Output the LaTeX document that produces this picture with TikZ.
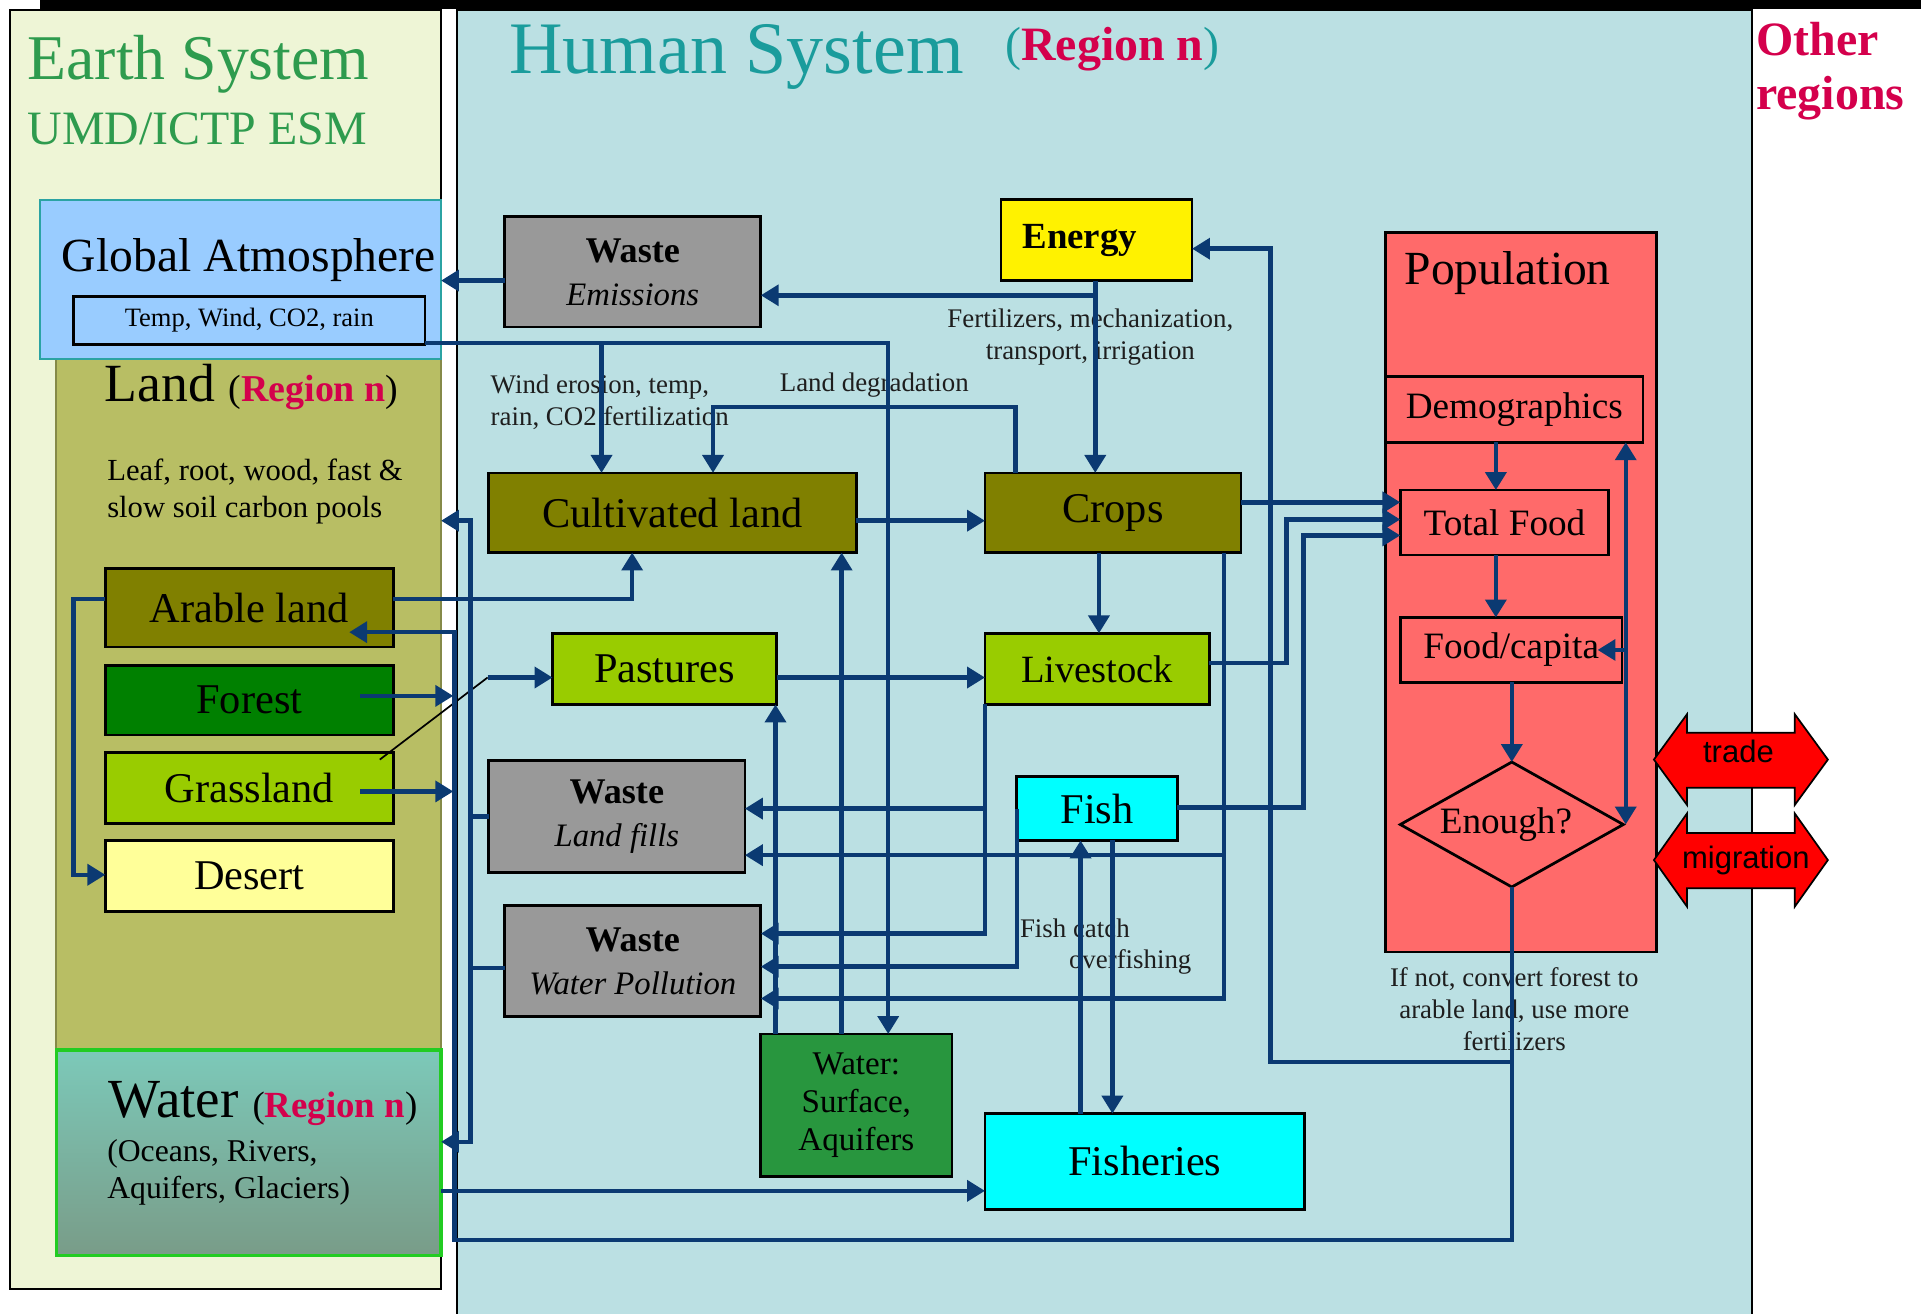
\documentclass[tikz,border=0pt]{standalone}
\usepackage{fontspec}
\setmainfont{Liberation Serif}
\newfontfamily\arialf{Liberation Sans}
\usetikzlibrary{arrows.meta,shapes.geometric,calc}
\definecolor{navy}{HTML}{0B3A72}
\definecolor{esgreen}{HTML}{2E9B4E}
\definecolor{hsteal}{HTML}{1A9C9C}
\definecolor{crim}{HTML}{D4004C}
\definecolor{earthbg}{HTML}{EEF5D6}
\definecolor{humanbg}{HTML}{BBE0E3}
\definecolor{landbg}{HTML}{B8BE64}
\definecolor{landline}{HTML}{858A48}
\definecolor{atmbg}{HTML}{99CCFF}
\definecolor{atmline}{HTML}{2BA3A3}
\definecolor{olivebox}{HTML}{808000}
\definecolor{forestc}{HTML}{008000}
\definecolor{grassc}{HTML}{99CC00}
\definecolor{desertc}{HTML}{FFFF99}
\definecolor{wastec}{HTML}{999999}
\definecolor{wsurfc}{HTML}{28963E}
\definecolor{popc}{HTML}{FF6A6A}
\definecolor{watertop}{HTML}{7CC9B9}
\definecolor{waterbot}{HTML}{799C88}
\definecolor{waterline}{HTML}{22CC22}
\definecolor{labelc}{HTML}{1E1E1E}
\definecolor{fishc}{HTML}{00FFFF}
\newcommand\fsz[2]{\fontsize{#1pt}{#2pt}\selectfont}
\newcommand\wastetxt[1]{{\fsz{10.5}{12.4}\bfseries Waste}\\{\fsz{9.5}{12.4}\itshape #1}}
\tikzset{
  wh/.style 2 args={minimum width=#1*0.0125cm,minimum height=#2*0.0125cm},
  panel/.style={inner sep=0pt,outer sep=0pt,line width=0.6pt},
  box/.style={draw=black,line width=0.8pt,inner sep=0pt,outer sep=0pt},
  cn/.style={draw=navy,line width=1.3pt,-{Triangle[length=5.2pt,width=6pt]}},
  cnb/.style={draw=navy,line width=1.3pt,{Triangle[length=5.2pt,width=6pt]}-{Triangle[length=5.2pt,width=6pt]}},
  cl/.style={draw=navy,line width=1.3pt},
  lbl/.style={inner sep=0pt,text=labelc,font=\fsz{7.8}{9.3}},
  ttl/.style={anchor=base west,inner sep=0pt},
}
\begin{document}
\begin{tikzpicture}[x=0.0125cm,y=-0.0125cm]
\useasboundingbox (0,0) rectangle (1568,1072);
% top band
\fill[black] (33,0) rectangle (1568,7);
% panels
\node[panel,draw=black,fill=earthbg,wh={352}{1044}] (earth) at (184,530) {};
\node[panel,draw=black,fill=humanbg,wh={1057}{1080}] (human) at (901.5,548) {};
\node[panel,draw=landline,fill=landbg,wh={314}{564}] (land) at (203,575) {};
\node[panel,draw=waterline,line width=0.9pt,top color=watertop,bottom color=waterbot,wh={314}{168}] (water) at (203,941) {};
\node[panel,draw=atmline,fill=atmbg,wh={327}{130}] (atm) at (196.5,228) {};
\node[panel,draw=black,line width=0.8pt,wh={287}{39},font=\fsz{7.7}{9}] (temp) at (203.5,261.5) {Temp, Wind, CO2, rain};
% titles
\node[ttl,text=esgreen,font=\fsz{18.5}{20}] (estitle) at (22,65) {Earth System};
\node[ttl,text=esgreen,font=\fsz{13.9}{16}] (esmodel) at (22,118) {UMD/ICTP ESM};
\node[ttl,text=hsteal,font=\fsz{21.5}{24}] (hstitle) at (415,60) {Human System};
\node[ttl,text=hsteal,font=\fsz{13.9}{16}] (hsregion) at (820,49) {(\textcolor{crim}{\bfseries Region n})};
\node[ttl,text=crim,font=\fsz{13.9}{16}\bfseries] (other1) at (1433,45) {Other};
\node[ttl,text=crim,font=\fsz{13.9}{16}\bfseries] (other2) at (1433,89) {regions};
\node[ttl,font=\fsz{13.8}{16}] (atmtitle) at (50,222) {Global Atmosphere};
\node[ttl] (landtitle) at (85,328) {\fsz{15.6}{18}Land \fsz{11}{13}(\textcolor{crim}{\bfseries Region n})};
\node[inner sep=0pt,anchor=west,align=left,font=\fsz{8.9}{10.7}] (pools) at (87,401) {Leaf, root, wood, fast \&\\slow soil carbon pools};
\node[ttl] (watertitle) at (88,912) {\fsz{16}{18}Water \fsz{10.7}{12}(\textcolor{crim}{\bfseries Region n})};
\node[inner sep=0pt,anchor=west,align=left,font=\fsz{9.2}{10.7}] (waterkinds) at (87,957) {(Oceans, Rivers,\\Aquifers, Glaciers)};
% land boxes
\node[box,fill=olivebox,wh={235}{64},font=\fsz{12.3}{14}] (arable) at (203.5,496) {Arable land};
\node[box,fill=forestc,wh={235}{57},font=\fsz{12.3}{14}] (forest) at (203.5,571.5) {Forest};
\node[box,fill=grassc,wh={235}{58},font=\fsz{12.3}{14}] (grass) at (203.5,643) {Grassland};
\node[box,fill=desertc,wh={235}{58},font=\fsz{12.3}{14}] (desert) at (203.5,715) {Desert};
% human boxes
\node[box,fill=wastec,wh={209}{90},align=center,font=\fsz{10}{12.4}] (wemis) at (516.5,222) {\wastetxt{Emissions}};
\node[box,fill=yellow,wh={156}{66},font=\fsz{10.7}{12}\bfseries] (energy) at (895,196) {Energy\kern0.34cm};
\node[box,fill=olivebox,wh={300}{65},font=\fsz{12.3}{14}] (cult) at (549,418.5) {Cultivated land};
\node[box,fill=olivebox,wh={209}{65},font=\fsz{12.3}{14}] (crops) at (908.5,418.5) {Crops};
\node[box,fill=grassc,wh={183}{58},font=\fsz{12.3}{14}] (past) at (542.5,546) {Pastures};
\node[box,fill=grassc,wh={183}{58},font=\fsz{11.2}{13}] (live) at (895.5,546) {Livestock};
\node[box,fill=wastec,wh={209}{91},align=center,font=\fsz{10}{12.4}] (wland) at (503.5,666.5) {\wastetxt{Land fills}};
\node[box,fill=fishc,wh={131}{52},font=\fsz{12.3}{14}] (fish) at (895.5,660) {Fish};
\node[box,fill=wastec,wh={209}{91},align=center,font=\fsz{10}{12.4}] (wwater) at (516.5,784.5) {\wastetxt{Water Pollution}};
\node[box,fill=wsurfc,wh={156}{116},align=center,font=\fsz{9.6}{11}] (wsurf) at (699,902) {Water:\\Surface,\\Aquifers};
\node[box,fill=fishc,wh={261}{78},font=\fsz{12.3}{14}] (fisheries) at (934.5,948) {Fisheries};
% population
\node[box,fill=popc,wh={221}{587}] (pop) at (1241.5,483.5) {};
\node[ttl,font=\fsz{13.8}{16}] (poptitle) at (1146,232) {Population};
\node[box,fill=popc,wh={210}{54},font=\fsz{10.8}{12}] (demo) at (1236,334) {Demographics};
\node[box,fill=popc,wh={170}{53},font=\fsz{10.8}{12}] (tfood) at (1228,426.5) {Total Food};
\node[box,fill=popc,wh={181}{53},font=\fsz{10.8}{12}] (fcap) at (1233.5,530.5) {Food/capita};
\node[draw=black,line width=0.8pt,fill=popc,diamond,aspect=1.8,inner sep=0pt,outer sep=0pt,wh={182}{102},font=\fsz{10.8}{12}] (enough) at (1234,673) {Enough?\kern0.12cm};
% trade / migration
\filldraw[fill=red,draw=black,line width=0.5pt] (1350,620) -- (1377,583) -- (1377,598) -- (1465,598) -- (1465,583) -- (1492,620) -- (1465,657) -- (1465,643) -- (1377,643) -- (1377,657) -- cycle;
\filldraw[fill=red,draw=black,line width=0.5pt] (1350,702) -- (1377,664) -- (1377,680) -- (1465,680) -- (1465,664) -- (1492,702) -- (1465,740) -- (1465,725) -- (1377,725) -- (1377,740) -- cycle;
\node[inner sep=0pt,font=\arialf\fsz{9}{10}] (tradelbl) at (1419,613) {trade};
\node[inner sep=0pt,font=\arialf\fsz{9}{10}] (migrlbl) at (1425,702) {migration};
% labels
\node[lbl,align=center] (fertlbl) at (890,275) {Fertilizers, mechanization,\\transport, irrigation};
\node[lbl,align=left,anchor=west] (windlbl) at (400,328) {Wind erosion, temp,\\rain, CO2 fertilization};
\node[lbl,anchor=west] (degrlbl) at (636,314) {Land degradation};
\node[lbl,anchor=west] (fishlbl) at (832,758) {Fish catch};
\node[lbl,anchor=west] (overlbl) at (872,785) {overfishing};
\node[lbl,align=center] (ifnot) at (1236,824) {If not, convert forest to\\arable land, use more\\fertilizers};
% connectors
\draw[cn] (wemis.west |- 0,229) -- (atm.east |- 0,229);
\draw[cn] (energy.south -| 894,0) -- (crops.north -| 894,0);
\draw[cn] (energy.south -| 894,0) |- (wemis.east |- 0,241);
\draw[cn] (temp.east |- 0,280) -| (wsurf.north -| 725,0);
\coordinate (j1) at (491,280);
\draw[cn] (j1) -- (cult.north -| j1);
\draw[cn] (crops.north -| 829,0) -- (829,332) -| (cult.north -| 582,0);
\draw[cn] (cult.east |- 0,425) -- (crops.west |- 0,425);
\draw[cn] (arable.east |- 0,489) -| (cult.south -| 516,0);
\draw[cn] (arable.west |- 0,489) -| (60,600) |- (desert.west |- 0,714);
\draw[cn] ($(forest.east)+(-27,-3.5)$) -- ($(forest.east -| human.west)+(-3,-3.5)$);
\draw[cn] ($(grass.east)+(-27,3)$) -- ($(grass.east -| human.west)+(-3,3)$);
\coordinate (gp) at (398,553);
\draw[black,line width=0.5pt] ($(grass.north east)+(-11,6)$) -- (gp);
\draw[cn] (gp) -- (past.west |- gp);
\draw[cn] (past.east |- 0,553) -- (live.west |- 0,553);
\draw[cn] (crops.south -| 897,0) -- (live.north -| 897,0);
\draw[cn] (crops.east |- 0,410) -- (tfood.west |- 0,410);
\draw[cn] (live.east |- 0,541) -| (1050,480) |- (tfood.west |- 0,424);
\draw[cn] (fish.east |- 0,659) -| (1064,500) |- (tfood.west |- 0,437);
\draw[cn] (demo.south -| 1221,0) -- (tfood.north -| 1221,0);
\draw[cn] (tfood.south -| 1221,0) -- (fcap.north -| 1221,0);
\draw[cn] (fcap.south -| enough.north) -- (enough.north);
\draw[cnb] (demo.south -| 1327,0) -- (enough.east -| 1327,0);
\draw[cn] (fcap.east -| 1327,0) -- ($(fcap.east)+(-20,0)$);
\draw[cn] (enough.south) |- (371,1012) |- ($(arable.east |- 0,516)+(-36,0)$);
\coordinate (j2) at (enough.south |- 0,867);
\draw[cn] (j2) -| (1037,500) |- (energy.east |- 0,203);
\draw[cn] (crops.south -| 999,0) |- (wwater.east |- 0,815);
\coordinate (j3) at (999,698);
\draw[cn] (j3) -- (wland.east |- j3);
\draw[cn] (live.south west) |- (wwater.east |- 0,762);
\coordinate (j4) at (804,660);
\draw[cn] (j4) -- (wland.east |- j4);
\draw[cn] (fish.west) |- (wwater.east |- 0,789);
\draw[cn] (wsurf.north -| 633,0) -- (past.south -| 633,0);
\draw[cn] (wsurf.north -| 687,0) -- (cult.south -| 687,0);
\draw[cn] (fisheries.north -| 882,0) -- (fish.south -| 882,0);
\draw[cn] (fish.south -| 908,0) -- (fisheries.north -| 908,0);
\draw[cn] (water.east |- 0,972) -- (fisheries.west |- 0,972);
\draw[cnb] (land.east |- 0,425) -| (384,700) |- (water.east |- 0,932);
\draw[cl] (wland.west) -- (wland.west -| 384,0);
\draw[cl] (wwater.west |- 0,790) -- (384,790);
\end{tikzpicture}
\end{document}
